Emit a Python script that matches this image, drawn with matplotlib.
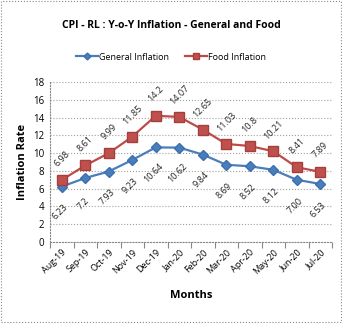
import matplotlib.pyplot as plt
from matplotlib.patches import Rectangle

months = ['Aug-19', 'Sep-19', 'Oct-19', 'Nov-19', 'Dec-19', 'Jan-20',
          'Feb-20', 'Mar-20', 'Apr-20', 'May-20', 'Jun-20', 'Jul-20']
general = [6.23, 7.2, 7.93, 9.23, 10.64, 10.62, 9.84, 8.69, 8.52, 8.12, 7.00, 6.53]
food = [6.98, 8.61, 9.99, 11.85, 14.2, 14.07, 12.65, 11.03, 10.8, 10.21, 8.41, 7.89]
general_lbl = ['6.23', '7.2', '7.93', '9.23', '10.64', '10.62', '9.84', '8.69',
               '8.52', '8.12', '7.00', '6.53']
food_lbl = ['6.98', '8.61', '9.99', '11.85', '14.2', '14.07', '12.65', '11.03',
            '10.8', '10.21', '8.41', '7.89']

plt.rcParams['font.family'] = ['Open Sans', 'DejaVu Sans']

fig = plt.figure(figsize=(3.42, 3.23), dpi=100)
ax = fig.add_axes([50 / 342, 1 - 242 / 323, 282 / 342, 160 / 323])

x = list(range(len(months)))
ax.plot(x, general, color='#4a7ebb', lw=1.6, marker='D', ms=5,
        mfc='#4a7ebb', mec='#3d6fb0', label='General Inflation', zorder=3)
ax.plot(x, food, color='#be4b48', lw=1.6, marker='s', ms=7,
        mfc='#c0504d', mec='#a33f3c', label='Food Inflation', zorder=3)

# etiquettes : au-dessus pour food, en dessous pour general
for i in x:
    ax.annotate(food_lbl[i], (i, food[i]), xytext=(0, 15.5), textcoords='offset points',
                rotation=45, ha='center', va='center', fontsize=6.5, color='#222222')
    ax.annotate(general_lbl[i], (i, general[i]), xytext=(-1.5, -18.5), textcoords='offset points',
                rotation=45, ha='center', va='center', fontsize=6.5, color='#222222')

ax.set_xlim(-0.5, len(months) - 0.5)
ax.set_ylim(0, 18)
ax.set_yticks(range(0, 19, 2))
ax.set_xticks([i - 0.5 for i in range(len(months) + 1)], minor=False)
ax.set_xticklabels([])
ax.set_xticks(x, minor=True)
ax.set_xticklabels(months, minor=True, rotation=45, ha='right', rotation_mode='anchor',
                   fontsize=6.5)
ax.tick_params(axis='x', which='minor', length=0, pad=4)
ax.tick_params(axis='x', which='major', length=4, color='#888888', direction='out')
ax.tick_params(axis='y', labelsize=7, length=0, pad=4)
ax.grid(axis='y', color='#a0a0a0', ls=':', lw=0.8)
for s in ['top', 'right']:
    ax.spines[s].set_visible(False)
ax.spines['left'].set_color('#888888')
ax.spines['bottom'].set_color('#888888')
ax.spines['bottom'].set_linestyle(':')
ax.spines['left'].set_linestyle(':')

ax.set_ylabel('Inflation Rate', fontsize=8, fontweight='bold', labelpad=4)
ax.set_xlabel('Months', fontsize=8, fontweight='bold', labelpad=10)

fig.text(0.5, 1 - 25 / 323, 'CPI - RL : Y-o-Y Inflation - General and Food',
         ha='center', va='center', fontsize=7.5, fontweight='bold')
fig.legend(loc='center', bbox_to_anchor=(0.5, 1 - 57 / 323), ncol=2, frameon=False,
           fontsize=6.5, handlelength=2.4, columnspacing=1.8, handletextpad=0.1,
           markerscale=0.7)

fig.patches.append(Rectangle((0.003, 0.003), 0.994, 0.994, transform=fig.transFigure,
                             fill=False, ec='#888888', lw=0.8, ls=':'))

fig.savefig('out.png', dpi=100)
